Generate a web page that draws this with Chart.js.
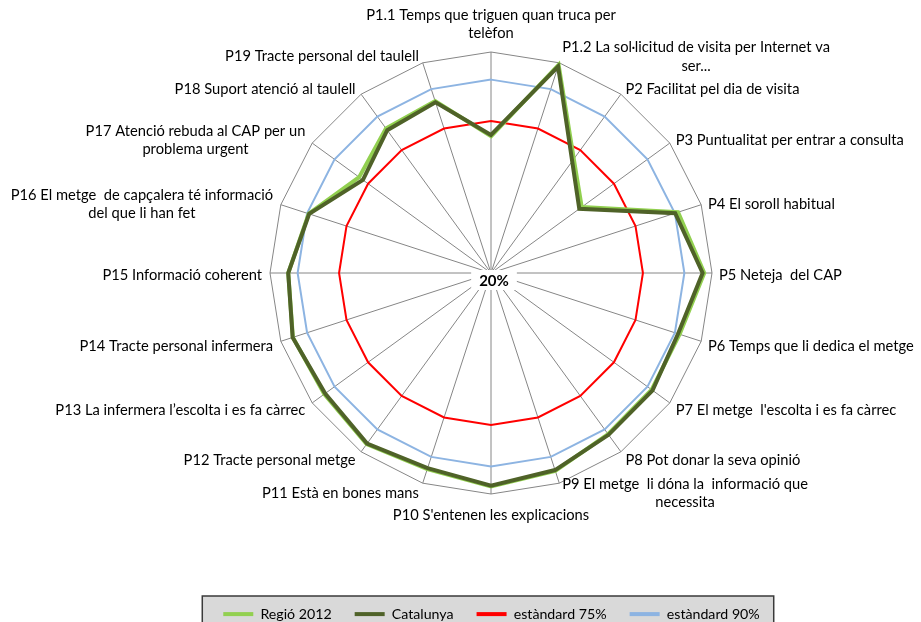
<!DOCTYPE html>
<html lang="ca">
<head>
<meta charset="utf-8">
<title>Enquesta de satisfacció – atenció primària</title>
<script src="https://cdn.jsdelivr.net/npm/chart.js@4.4.1/dist/chart.umd.min.js"></script>
<style>
  html, body { margin: 0; padding: 0; background: #ffffff; }
  #wrap { position: relative; width: 921px; height: 622px; }
</style>
</head>
<body>
<div id="wrap"><canvas id="radar"></canvas></div>
<script>
// Preguntes de l'enquesta (eixos del radar)
const categories = [
  ['P1.1 Temps que triguen quan truca per', 'telèfon'],
  ['P1.2 La sol·licitud de visita per Internet va', 'ser...'],
  'P2 Facilitat pel dia de visita',
  'P3 Puntualitat per entrar a consulta',
  'P4 El soroll habitual',
  'P5 Neteja  del CAP',
  'P6 Temps que li dedica el metge',
  "P7 El metge  l'escolta i es fa càrrec",
  'P8 Pot donar la seva opinió',
  ['P9 El metge  li dóna la  informació que', 'necessita'],
  "P10 S'entenen les explicacions",
  'P11 Està en bones mans',
  'P12 Tracte personal metge',
  'P13 La infermera l’escolta i es fa càrrec',
  'P14 Tracte personal infermera',
  'P15 Informació coherent',
  ['P16 El metge  de capçalera té informació', 'del que li han fet'],
  ['P17 Atenció rebuda al CAP per un', 'problema urgent'],
  'P18 Suport atenció al taulell',
  'P19 Tracte personal del taulell'
];

// Percentatge de satisfacció per pregunta
const regio2012 = [69.5, 99.2, 71, 60.6, 91.2, 97.2, 91.8, 91.9, 92.1, 95.3, 97.3, 94.6, 96.6, 94.6, 95.4, 93.4, 89.4, 79.0, 84.7, 85.4];
const catalunya = [70, 98.6, 70, 59.5, 90.1, 96.6, 91.2, 92.3, 92.4, 95.0, 97.0, 94.3, 96.3, 94.2, 95.5, 93.4, 89.2, 77.3, 83.9, 85.0];
const estandard75 = [75, 75, 75, 75, 75, 75, 75, 75, 75, 75, 75, 75, 75, 75, 75, 75, 75, 75, 75, 75];
const estandard90 = [90, 90, 90, 90, 90, 90, 90, 90, 90, 90, 90, 90, 90, 90, 90, 90, 90, 90, 90, 90];

// Límits de l'escala radial
const scaleMin = 20;
const scaleMax = 100;

const FONT = 'Lato, "Open Sans", "DejaVu Sans", sans-serif';

// Etiquetes de cada eix, col·locades a fora del polígon exterior
const axisLabelsPlugin = {
  id: 'axisLabels',
  afterDraw(chart) {
    const scale = chart.scales.r;
    const ctx = chart.ctx;
    const labels = chart.data.labels;
    const n = labels.length;
    const lineH = 18.5;
    ctx.save();
    ctx.font = '14.7px ' + FONT;
    ctx.fillStyle = '#000000';
    ctx.textBaseline = 'middle';
    labels.forEach((lab, i) => {
      const lines = Array.isArray(lab) ? lab : [lab];
      const deg = Math.round(i * 360 / n);
      const theta = deg * Math.PI / 180;
      const p = scale.getPointPosition(i, scale.drawingArea + 6);
      const w = Math.max(...lines.map(l => ctx.measureText(l).width));
      const h = lines.length * lineH;
      let left, cy;
      if (deg === 0) {
        left = p.x - w / 2;
        cy = p.y - 3 - h / 2;
      } else if (deg === 180) {
        left = p.x - w / 2;
        cy = p.y + 6 + h / 2;
      } else if (deg < 180) {
        left = p.x + 1;
        cy = p.y + 2 - 2.5 * Math.cos(theta);
      } else {
        left = p.x - 2 - w;
        cy = p.y + 2 - 2.5 * Math.cos(theta);
      }
      ctx.textAlign = 'center';
      lines.forEach((line, k) => {
        const y = cy - h / 2 + lineH * (k + 0.5);
        ctx.fillText(line, left + w / 2, y);
      });
    });
    ctx.restore();
  }
};

// Valor mínim de l'escala, al centre del radar
const centerValuePlugin = {
  id: 'centerValue',
  afterDraw(chart) {
    const scale = chart.scales.r;
    const ctx = chart.ctx;
    const text = scale.min + '%';
    const cx = scale.xCenter + 3;
    const cy = scale.yCenter + 7;
    ctx.save();
    ctx.font = 'bold 15px ' + FONT;
    const tw = ctx.measureText(text).width;
    ctx.fillStyle = '#ffffff';
    ctx.fillRect(cx - tw / 2 - 8, cy - 10, tw + 16, 20);
    ctx.fillStyle = '#000000';
    ctx.textAlign = 'center';
    ctx.textBaseline = 'middle';
    ctx.fillText(text, cx, cy + 1);
    ctx.restore();
  }
};

// Fons gris amb vora per a la llegenda
const legendFramePlugin = {
  id: 'legendFrame',
  beforeDraw(chart) {
    const lg = chart.legend;
    if (!lg || !lg.legendHitBoxes || !lg.legendHitBoxes.length) return;
    const boxes = lg.legendHitBoxes;
    const l = Math.min(...boxes.map(b => b.left)) - 21;
    const r = Math.max(...boxes.map(b => b.left + b.width)) + 14;
    const t = boxes[0].top - 11;
    const ctx = chart.ctx;
    ctx.save();
    ctx.fillStyle = '#d9d9d9';
    ctx.fillRect(l, t, r - l, chart.height - t + 4);
    ctx.strokeStyle = '#3a3a3a';
    ctx.lineWidth = 1.5;
    ctx.strokeRect(l, t, r - l, chart.height - t + 4);
    ctx.restore();
  }
};

const ctx = document.getElementById('radar').getContext('2d');
new Chart(ctx, {
  type: 'radar',
  data: {
    labels: categories,
    datasets: [
      { label: 'Regió 2012', data: regio2012, borderColor: '#92d050', backgroundColor: '#92d050', borderWidth: 4, order: 1 },
      { label: 'Catalunya', data: catalunya, borderColor: '#4f6228', backgroundColor: '#4f6228', borderWidth: 4, order: 0 },
      { label: 'estàndard 75%', data: estandard75, borderColor: '#ff0000', backgroundColor: '#ff0000', borderWidth: 2, order: 2 },
      { label: 'estàndard 90%', data: estandard90, borderColor: '#8db4e2', backgroundColor: '#8db4e2', borderWidth: 2, order: 3 }
    ]
  },
  options: {
    responsive: true,
    maintainAspectRatio: false,
    animation: false,
    devicePixelRatio: 1,
    layout: { padding: { top: 52, left: 62, right: 0, bottom: 0 } },
    elements: {
      line: { fill: false, tension: 0, borderJoinStyle: 'miter' },
      point: { radius: 0, hoverRadius: 0 }
    },
    scales: {
      r: {
        min: scaleMin,
        max: scaleMax,
        ticks: { display: false, stepSize: scaleMax - scaleMin },
        grid: { color: '#868686', lineWidth: 1 },
        angleLines: { color: '#868686', lineWidth: 1 },
        pointLabels: { display: false }
      }
    },
    plugins: {
      tooltip: { enabled: false },
      legend: {
        position: 'bottom',
        maxHeight: 128,
        title: { display: true, text: '', padding: { top: 89, bottom: 0 }, font: { size: 1, lineHeight: 1 } },
        labels: {
          color: '#000000',
          font: { family: FONT, size: 14.2 },
          boxWidth: 30,
          boxHeight: 4,
          padding: 23,
          sort: (a, b) => a.datasetIndex - b.datasetIndex,
          generateLabels(chart) {
            return Chart.defaults.plugins.legend.labels.generateLabels(chart)
              .map(item => Object.assign(item, { lineWidth: 0 }));
          }
        }
      }
    }
  },
  plugins: [legendFramePlugin, axisLabelsPlugin, centerValuePlugin]
});
</script>
</body>
</html>
